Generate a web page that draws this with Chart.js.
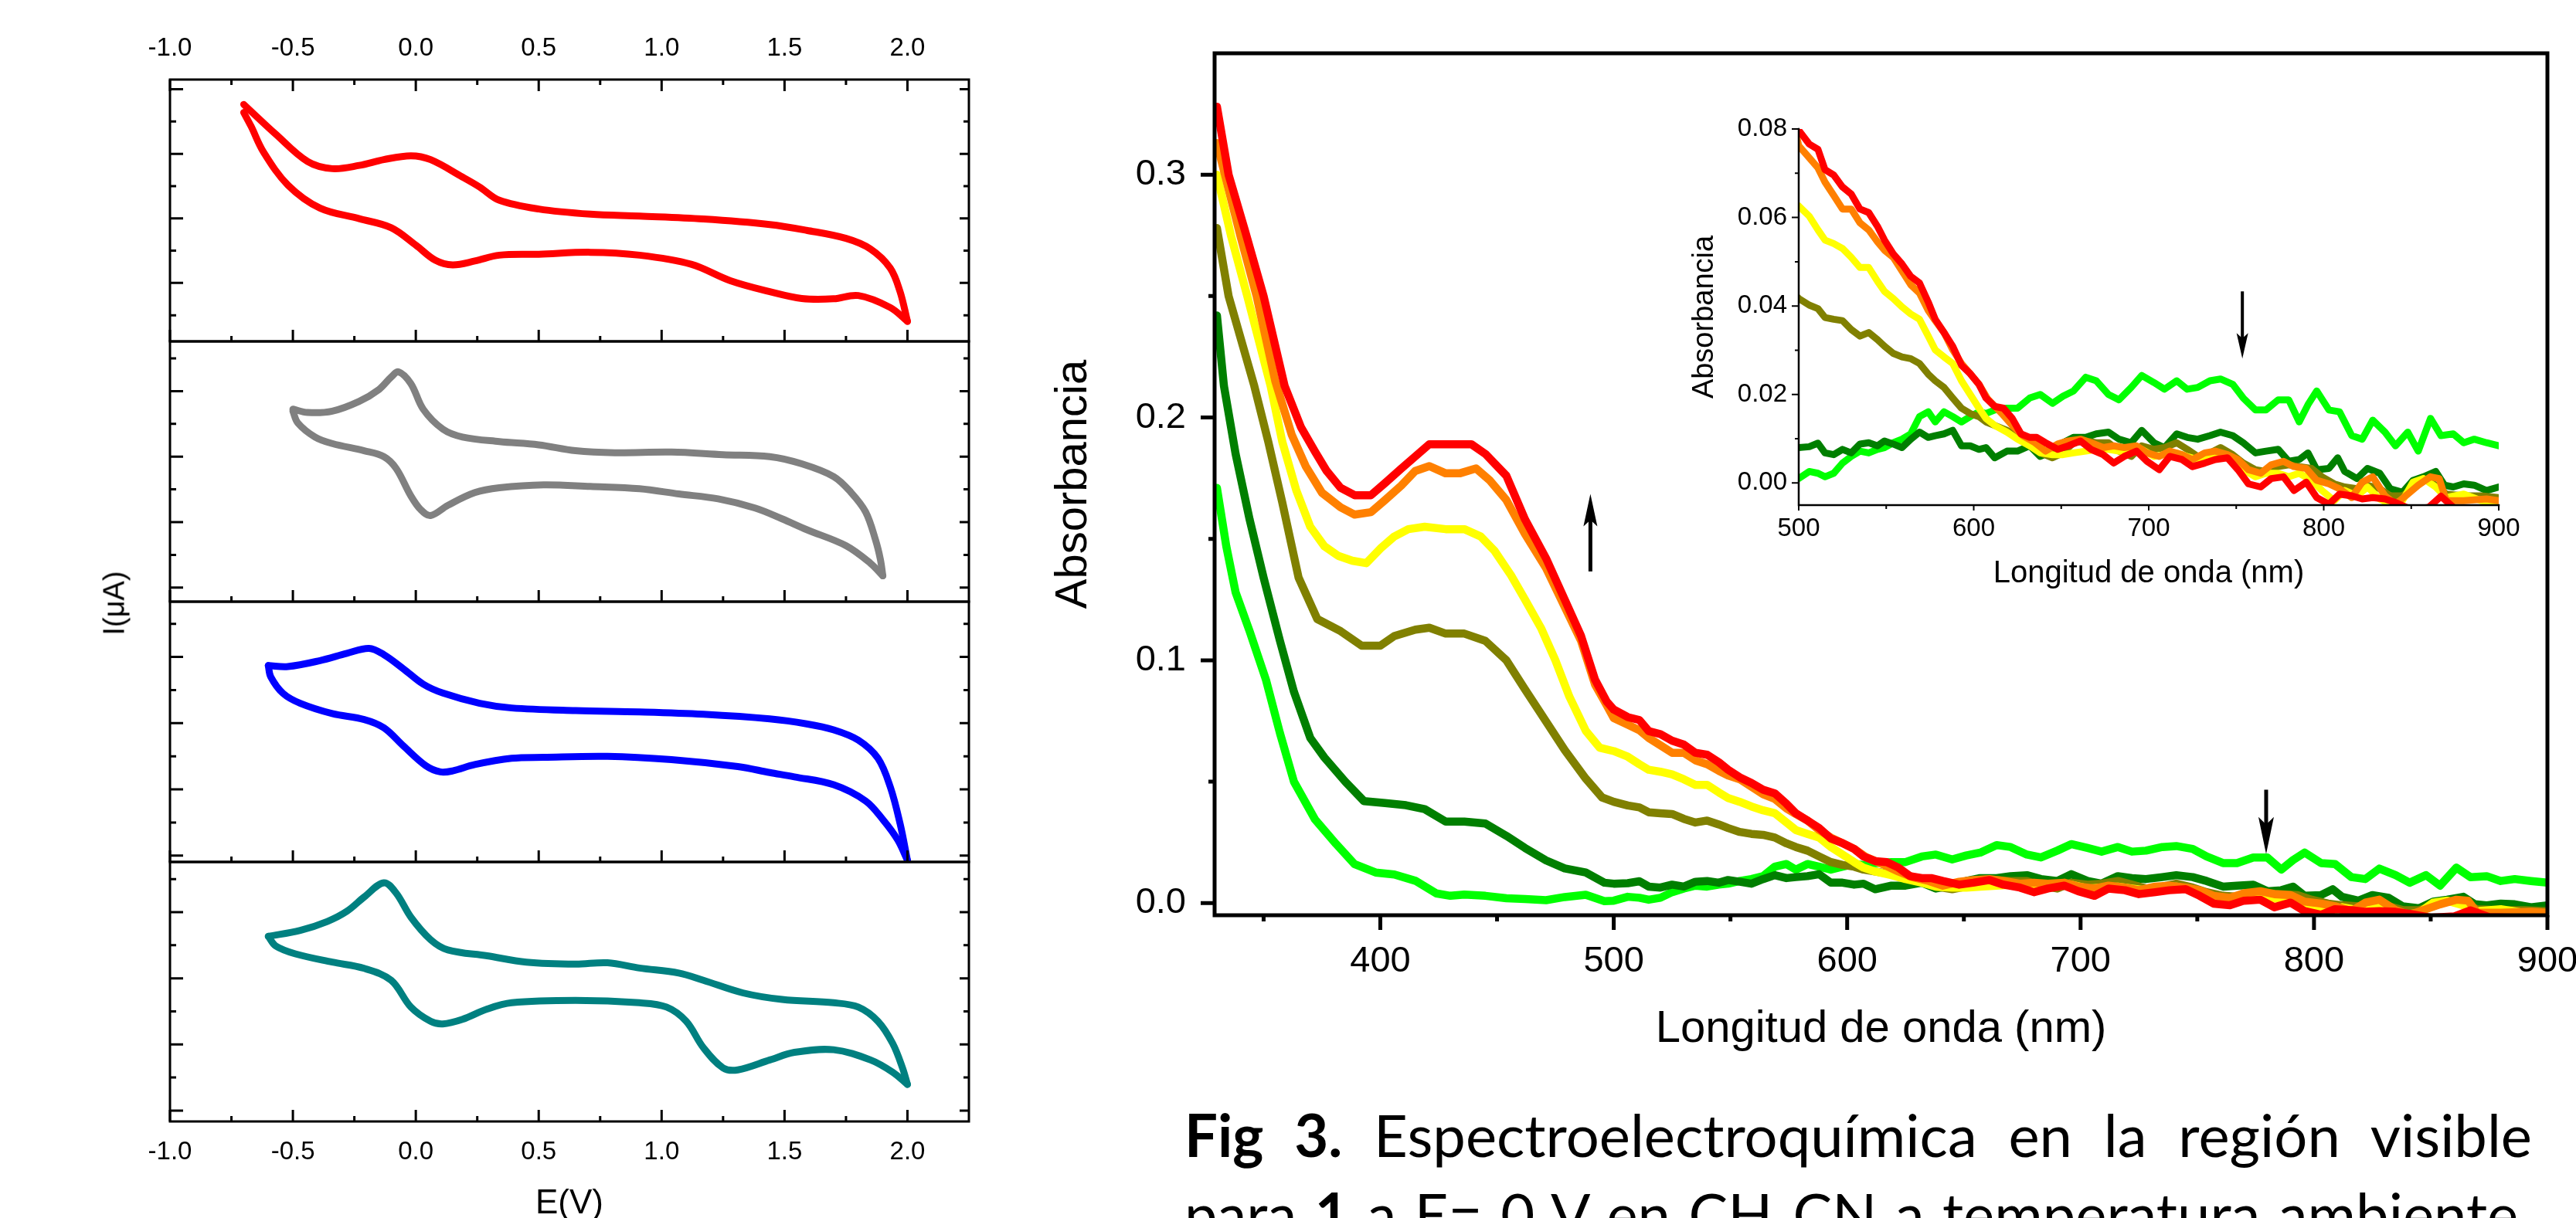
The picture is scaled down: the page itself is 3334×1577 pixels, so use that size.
<!DOCTYPE html>
<html>
<head>
<meta charset="utf-8">
<script src="https://cdn.jsdelivr.net/npm/chart.js@4.4.1/dist/chart.umd.min.js"></script>
<style>
  html, body { margin: 0; padding: 0; background: #fff; overflow: hidden; width: 3334px; height: 1577px; }
  body { position: relative; }
  canvas { position: absolute; }
  .cap { position: absolute; left: 1533px; width: 1744px; font-family: Lato, 'Noto Sans', sans-serif; font-size: 76px; line-height: 102px; text-align: justify; text-align-last: justify; color: #000; }
  .cap sub { font-size: 45px; line-height: 0; }
  #ilab { position: absolute; left: 148px; top: 781px; transform: translate(-50%, -50%) rotate(-90deg); font: 38px 'Liberation Sans', Arial, sans-serif; white-space: nowrap; }
</style>
</head>
<body>
<canvas id="cv1" width="1300" height="452" style="left:0;top:0"></canvas>
<canvas id="cv2" width="1300" height="357" style="left:0;top:432px"></canvas>
<canvas id="cv3" width="1300" height="357" style="left:0;top:769px"></canvas>
<canvas id="cv4" width="1300" height="520" style="left:0;top:1106px"></canvas>
<div id="ilab">I(μA)</div>
<canvas id="main" width="2100" height="1420" style="left:1300px;top:0"></canvas>
<canvas id="inset" width="1150" height="660" style="left:2150px;top:120px"></canvas>
<div class="cap" style="top:1418px"><b>Fig 3.</b> Espectroelectroquímica en la región visible</div>
<div class="cap" style="top:1520px">para <b>1</b> a E= 0 V en CH<sub>3</sub>CN a temperatura ambiente.</div>

<script>
// ---- cyclic voltammograms: [E (V), I (arbitrary, one unit per tick)] ----
const cvRedFwd = [[-0.70,6.53],[-0.57,5.61],[-0.44,4.76],[-0.34,4.54],[-0.23,4.64],[-0.13,4.82],[-0.02,4.94],[0.06,4.82],[0.19,4.28],[0.26,3.97],[0.34,3.56],[0.50,3.29],[0.71,3.13],[0.91,3.07],[1.17,2.98],[1.44,2.81],[1.59,2.63],[1.75,2.38],[1.85,2.05],[1.93,1.46],[1.97,0.73],[2.0,-0.19]];
const cvRedRev = [[2.0,-0.19],[1.93,0.24],[1.80,0.61],[1.70,0.51],[1.57,0.52],[1.44,0.73],[1.28,1.07],[1.12,1.58],[0.91,1.86],[0.71,1.95],[0.50,1.89],[0.34,1.86],[0.24,1.68],[0.15,1.56],[0.08,1.70],[0.00,2.17],[-0.10,2.71],[-0.23,2.99],[-0.39,3.32],[-0.52,4.03],[-0.62,5.06],[-0.67,5.85],[-0.70,6.28]];
const cvGrayFwd = [[-0.50,5.45],[-0.44,5.35],[-0.34,5.39],[-0.23,5.69],[-0.15,6.05],[-0.10,6.43],[-0.07,6.59],[-0.02,6.23],[0.03,5.45],[0.11,4.84],[0.19,4.60],[0.34,4.46],[0.50,4.36],[0.65,4.18],[0.81,4.12],[1.04,4.14],[1.25,4.06],[1.44,4.00],[1.57,3.78],[1.70,3.39],[1.77,2.91],[1.83,2.31],[1.87,1.46],[1.89,0.86],[1.90,0.36]];
const cvGrayRev = [[1.90,0.36],[1.85,0.74],[1.75,1.28],[1.59,1.77],[1.49,2.10],[1.38,2.43],[1.23,2.71],[1.07,2.86],[0.91,3.02],[0.71,3.09],[0.52,3.14],[0.34,3.05],[0.24,2.90],[0.13,2.51],[0.06,2.20],[0.02,2.38],[-0.02,2.80],[-0.08,3.64],[-0.13,4.00],[-0.21,4.18],[-0.34,4.40],[-0.41,4.60],[-0.48,5.03],[-0.50,5.39]];
const cvBlueFwd = [[-0.60,5.74],[-0.52,5.71],[-0.39,5.89],[-0.28,6.11],[-0.19,6.26],[-0.13,6.07],[-0.05,5.64],[0.03,5.18],[0.11,4.91],[0.26,4.60],[0.39,4.46],[0.65,4.38],[0.91,4.34],[1.17,4.27],[1.44,4.13],[1.59,3.98],[1.70,3.80],[1.80,3.49],[1.88,2.94],[1.93,2.08],[1.97,0.97],[2.0,-0.14]];
const cvBlueRev = [[2.0,-0.14],[1.96,0.48],[1.90,1.09],[1.83,1.65],[1.70,2.14],[1.54,2.38],[1.44,2.51],[1.31,2.69],[1.04,2.90],[0.78,3.00],[0.52,2.97],[0.39,2.94],[0.24,2.75],[0.15,2.56],[0.10,2.53],[0.04,2.72],[-0.05,3.31],[-0.13,3.86],[-0.21,4.11],[-0.34,4.29],[-0.47,4.60],[-0.54,4.90],[-0.59,5.40],[-0.60,5.74]];
const cvTealFwd = [[-0.60,5.27],[-0.47,5.45],[-0.36,5.72],[-0.28,6.03],[-0.21,6.46],[-0.13,6.89],[-0.08,6.58],[-0.02,5.85],[0.06,5.17],[0.13,4.86],[0.29,4.68],[0.45,4.49],[0.65,4.43],[0.78,4.47],[0.91,4.31],[1.07,4.16],[1.17,3.94],[1.33,3.56],[1.49,3.36],[1.70,3.26],[1.80,3.13],[1.88,2.70],[1.94,2.03],[1.98,1.29],[2.0,0.79]];
const cvTealRev = [[2.0,0.79],[1.94,1.16],[1.85,1.53],[1.70,1.84],[1.54,1.76],[1.44,1.53],[1.31,1.23],[1.25,1.29],[1.17,1.90],[1.10,2.70],[1.02,3.13],[0.91,3.26],[0.65,3.33],[0.39,3.26],[0.29,3.07],[0.19,2.76],[0.11,2.62],[0.06,2.70],[-0.02,3.13],[-0.10,3.94],[-0.21,4.30],[-0.34,4.49],[-0.49,4.74],[-0.57,4.98],[-0.60,5.27]];

const cvXTicks = [-1.0, -0.5, 0.0, 0.5, 1.0, 1.5, 2.0];
const cvXMinor = [-0.75, -0.25, 0.25, 0.75, 1.25, 1.75];
const cvYOdd = [1, 3, 5, 7];
const cvYEven = [0, 2, 4, 6];

// ---- spectra: [wavelength (nm), absorbance] ----
const specRed = [[330,0.328],[335,0.30],[342,0.277],[350,0.25],[359,0.213],[366,0.196],[372,0.186],[377,0.178],[383,0.171],[389,0.168],[396,0.168],[402,0.173],[409,0.179],[415,0.184],[421,0.189],[430,0.189],[439,0.189],[445,0.185],[454,0.176],[462,0.158],[471,0.142],[479,0.125],[486,0.11],[492,0.092],[497,0.083],
  [500,0.0797],[506,0.0766],[511,0.0754],[515,0.0708],[520,0.0696],[525,0.0669],[530,0.0653],[535,0.0619],[540,0.0611],[545,0.058],[549,0.0549],[554,0.0518],[559,0.0495],[564,0.0467],[569,0.0452],[574,0.0409],[578,0.037],[583,0.034],[588,0.0309],[593,0.0266],[598,0.0247],[603,0.0223],[607,0.0192],[612,0.0173],[617,0.0169],[622,0.0146],[627,0.0111],[632,0.0103],[636,0.0103],[641,0.0091],[648,0.0076],[654,0.0084],[661,0.0095],[667,0.0076],[674,0.0064],[680,0.0045],[686,0.006],[693,0.0072],[699,0.0049],[706,0.003],[712,0.006],[719,0.0053],[725,0.0037],[732,0.0045],[738,0.0053],[745,0.0057],[751,0.003],[757,-0.0002],[764,-0.0009],[770,0.001],[777,0.0014],[783,-0.0017],[790,0.0002],[796,-0.0033],[803,-0.0048],[809,-0.0025],[816,-0.0029],[822,-0.0036],[828,-0.0033],[835,-0.0036],[841,-0.0044],[850,-0.006],[860,-0.0055],[867,-0.003],[875,-0.0058],[885,-0.006],[900,-0.006]];
const specOrange = [[330,0.313],[340,0.275],[347,0.25],[355,0.215],[362,0.193],[368,0.18],[375,0.169],[383,0.163],[389,0.16],[396,0.161],[402,0.166],[409,0.172],[415,0.178],[421,0.18],[428,0.177],[434,0.177],[441,0.179],[447,0.174],[454,0.166],[462,0.152],[471,0.138],[477,0.126],[486,0.108],[492,0.09],[497,0.0815],
  [500,0.0762],[506,0.0735],[511,0.0712],[515,0.068],[520,0.065],[525,0.0619],[530,0.0619],[535,0.0588],[540,0.0572],[545,0.0545],[549,0.0526],[554,0.051],[559,0.0479],[564,0.0448],[569,0.0429],[574,0.039],[578,0.0367],[583,0.034],[588,0.0301],[593,0.027],[598,0.0247],[603,0.0223],[608,0.019],[616,0.0157],[622,0.013],[628,0.0107],[635,0.0091],[641,0.0072],[648,0.0088],[654,0.0095],[661,0.0099],[667,0.0091],[674,0.008],[680,0.0084],[686,0.008],[693,0.0084],[699,0.0068],[706,0.006],[712,0.0072],[719,0.0064],[725,0.0053],[732,0.0068],[738,0.0072],[745,0.0064],[751,0.0053],[757,0.003],[764,0.0022],[770,0.0041],[777,0.0049],[783,0.0037],[790,0.0033],[796,0.0006],[803,-0.0002],[809,-0.0013],[816,-0.0033],[822,0.0002],[828,0.0014],[835,-0.0029],[841,-0.0048],[848,-0.0025],[854,-0.0005],[861,0.0014],[866,0.001],[870,-0.004],[880,-0.004],[893,-0.0036],[900,-0.004]];
const specYellow = [[330,0.30],[336,0.275],[343,0.25],[353,0.213],[358,0.19],[364,0.17],[370,0.155],[376,0.147],[382,0.143],[388,0.141],[394,0.14],[400,0.146],[406,0.151],[412,0.154],[419,0.155],[428,0.154],[436,0.154],[443,0.151],[449,0.145],[456,0.135],[462,0.125],[469,0.113],[475,0.1],[481,0.085],[488,0.071],[494,0.064],
  [500,0.0626],[506,0.0603],[511,0.0572],[515,0.0549],[520,0.0541],[525,0.053],[530,0.051],[535,0.0487],[540,0.0487],[545,0.0456],[549,0.0433],[554,0.0417],[559,0.0398],[564,0.0382],[569,0.037],[574,0.0332],[578,0.0301],[583,0.0285],[588,0.027],[593,0.0231],[598,0.02],[603,0.0169],[607,0.0146],[612,0.013],[619,0.0115],[625,0.0099],[632,0.0084],[638,0.0068],[645,0.0064],[651,0.0064],[657,0.0068],[664,0.0072],[670,0.0076],[677,0.0076],[683,0.0072],[690,0.0068],[696,0.0076],[703,0.006],[709,0.0064],[716,0.0068],[722,0.006],[728,0.0053],[735,0.006],[741,0.0068],[748,0.0053],[754,0.003],[761,0.0014],[767,0.0022],[774,0.0022],[780,0.0014],[786,0.0022],[793,0.0006],[799,-0.0017],[806,-0.004],[812,-0.0017],[819,-0.0029],[825,-0.0009],[832,-0.0036],[838,-0.0048],[845,-0.004],[851,0.0002],[857,0.001],[864,-0.0009],[870,-0.0033],[880,-0.0025],[890,-0.004],[900,-0.0044]];
const specOlive = [[330,0.278],[335,0.25],[346,0.213],[352,0.19],[358,0.165],[365,0.134],[373,0.117],[383,0.112],[392,0.106],[400,0.106],[406,0.11],[415,0.1126],[421,0.1134],[428,0.111],[436,0.111],[445,0.108],[454,0.1],[462,0.088],[471,0.0748],[479,0.063],[488,0.0513],[495,0.0435],
  [500,0.0417],[506,0.0402],[511,0.0394],[515,0.0374],[520,0.037],[525,0.0367],[530,0.0347],[535,0.0332],[540,0.034],[545,0.0324],[549,0.0309],[554,0.0293],[559,0.0285],[564,0.0281],[569,0.027],[574,0.0246],[578,0.0231],[583,0.0216],[588,0.0192],[593,0.0169],[598,0.0157],[603,0.015],[607,0.0138],[612,0.013],[619,0.0119],[625,0.0107],[632,0.0091],[638,0.0068],[645,0.0057],[651,0.0068],[657,0.0091],[664,0.0095],[670,0.0091],[677,0.0091],[683,0.0072],[690,0.006],[696,0.0084],[703,0.0076],[709,0.008],[716,0.0091],[722,0.0076],[728,0.006],[735,0.0068],[741,0.008],[748,0.0064],[754,0.0045],[761,0.003],[767,0.0026],[774,0.0037],[780,0.0041],[786,0.0037],[793,0.0033],[799,0.0014],[806,-0.0002],[812,-0.0009],[819,-0.0013],[825,-0.0005],[832,-0.0013],[838,-0.0029],[845,-0.0029],[851,-0.0013],[857,0.001],[864,-0.0005],[870,-0.0025],[880,-0.0029],[890,-0.0029],[900,-0.0033]];
const specDarkGreen = [[330,0.242],[333,0.213],[338,0.185],[344,0.158],[350,0.134],[357,0.108],[363,0.087],[370,0.068],[376,0.06],[385,0.05],[393,0.042],[402,0.0412],[411,0.0403],[419,0.0387],[428,0.0336],[436,0.0336],[445,0.0328],[454,0.0277],[462,0.0227],[471,0.0176],[479,0.0143],[488,0.0126],[496,0.0084],
  [500,0.008],[506,0.0082],[511,0.009],[515,0.0068],[520,0.0064],[525,0.0076],[530,0.0068],[535,0.0088],[540,0.0091],[545,0.0084],[549,0.0095],[554,0.0088],[559,0.008],[564,0.0099],[569,0.0115],[574,0.0103],[578,0.0107],[583,0.0111],[588,0.0119],[593,0.0084],[598,0.0084],[603,0.0076],[607,0.008],[612,0.0057],[619,0.0072],[625,0.0072],[632,0.0084],[638,0.006],[645,0.0072],[651,0.0091],[657,0.0103],[664,0.0103],[670,0.0111],[677,0.0115],[683,0.0099],[690,0.0091],[696,0.0119],[703,0.0091],[709,0.008],[716,0.0111],[722,0.0103],[728,0.0099],[735,0.0107],[741,0.0115],[748,0.0107],[754,0.0091],[761,0.0068],[767,0.0072],[774,0.0076],[780,0.0049],[786,0.0053],[791,0.0068],[796,0.003],[803,0.0033],[808,0.0057],[812,0.0026],[819,0.001],[825,0.0033],[832,0.0022],[838,-0.0013],[845,-0.0021],[851,0.0006],[857,0.0014],[864,0.0026],[869,-0.0005],[874,-0.0009],[880,-0.0002],[886,-0.0005],[893,-0.0017],[900,-0.0009]];
const specLime = [[330,0.171],[334,0.147],[338,0.128],[344,0.112],[351,0.092],[357,0.07],[363,0.05],[372,0.0345],[381,0.0244],[389,0.016],[398,0.0126],[406,0.0118],[415,0.0092],[424,0.004],[430,0.003],[436,0.0035],[445,0.003],[454,0.002],[462,0.0017],[471,0.0012],[479,0.0025],[488,0.0034],[496,0.0008],
  [500,0.001],[506,0.0026],[511,0.0022],[515,0.0014],[520,0.0022],[525,0.0045],[530,0.006],[535,0.0072],[540,0.0068],[545,0.0076],[549,0.008],[554,0.0091],[559,0.0099],[564,0.0111],[569,0.015],[574,0.0161],[578,0.0138],[583,0.0161],[588,0.015],[593,0.0138],[598,0.015],[603,0.0161],[607,0.0157],[612,0.0165],[619,0.0169],[625,0.0169],[632,0.0192],[638,0.02],[645,0.018],[651,0.0196],[657,0.0208],[664,0.0239],[670,0.0231],[677,0.02],[683,0.0188],[690,0.0216],[696,0.0243],[703,0.0227],[709,0.0212],[716,0.0231],[722,0.0212],[728,0.0216],[735,0.0231],[741,0.0235],[748,0.0223],[754,0.0192],[761,0.0165],[767,0.0165],[774,0.0188],[780,0.0188],[786,0.0138],[791,0.0177],[796,0.0208],[803,0.0165],[809,0.0161],[816,0.0107],[822,0.0099],[828,0.0142],[835,0.0115],[841,0.0084],[848,0.0115],[854,0.0072],[861,0.0146],[867,0.0107],[874,0.0111],[880,0.0091],[886,0.0099],[893,0.0091],[900,0.0084]];

const specColors = ['#ff0000', '#ff8000', '#ffff00', '#808000', '#007f00', '#00ff00'];
const specSeries = [specRed, specOrange, specYellow, specOlive, specDarkGreen, specLime];

const mainXTicks = [400, 500, 600, 700, 800, 900];
const mainXMinor = [350, 450, 550, 650, 750, 850];
const mainYTicks = [0.0, 0.1, 0.2, 0.3];
const mainYMinor = [0.05, 0.15, 0.25];
const insetXTicks = [500, 600, 700, 800, 900];
const insetXMinor = [550, 650, 750, 850];
const insetYTicks = [0.00, 0.02, 0.04, 0.06, 0.08];
const insetYMinor = [0.01, 0.03, 0.05, 0.07];

// arrows: wavelength, start and end absorbance
const mainArrows = [{x: 490, from: 0.1366, to: 0.1685, shaft: 5, head: 42, hw: 18}, {x: 779.5, from: 0.0467, to: 0.0202, shaft: 5, head: 48, hw: 20}];
const insetArrows = [{x: 753.5, from: 0.0433, to: 0.0281, shaft: 4, head: 33, hw: 15}];

Chart.defaults.font.family = "'Liberation Sans', Arial, Helvetica, sans-serif";
Chart.defaults.color = '#000';

// frame, inward/outward tick marks and arrows
const deco = {
  id: 'deco',
  afterDatasetsDraw(chart, args, o) {
    const ctx = chart.ctx, a = chart.chartArea;
    const sx = chart.scales.x, sy = chart.scales.y;
    ctx.save();
    ctx.strokeStyle = '#000';
    ctx.fillStyle = '#000';
    (o.marks || []).forEach(m => {
      const sc = m.axis === 'x' ? sx : sy;
      ctx.lineWidth = m.width;
      ctx.beginPath();
      m.values.forEach(v => {
        const p = sc.getPixelForValue(v);
        if (m.side === 'bottom') { ctx.moveTo(p, a.bottom); ctx.lineTo(p, a.bottom + m.len); }
        if (m.side === 'top') { ctx.moveTo(p, a.top); ctx.lineTo(p, a.top - m.len); }
        if (m.side === 'left') { ctx.moveTo(a.left, p); ctx.lineTo(a.left - m.len, p); }
        if (m.side === 'right') { ctx.moveTo(a.right, p); ctx.lineTo(a.right + m.len, p); }
      });
      ctx.stroke();
    });
    if (o.frame) {
      ctx.lineWidth = o.frame.width;
      if (o.frame.sides === 'all') {
        ctx.strokeRect(a.left, a.top, a.right - a.left, a.bottom - a.top);
      } else {
        ctx.lineCap = 'square';
        ctx.beginPath();
        ctx.moveTo(a.left, a.top); ctx.lineTo(a.left, a.bottom); ctx.lineTo(a.right, a.bottom);
        ctx.stroke();
      }
    }
    (o.arrows || []).forEach(ar => {
      const x = sx.getPixelForValue(ar.x);
      const y0 = sy.getPixelForValue(ar.from), y1 = sy.getPixelForValue(ar.to);
      const d = Math.sign(y1 - y0);
      ctx.lineCap = 'butt';
      ctx.lineWidth = ar.shaft;
      ctx.beginPath(); ctx.moveTo(x, y0); ctx.lineTo(x, y1 - d * ar.head * 0.6); ctx.stroke();
      ctx.beginPath();
      ctx.moveTo(x, y1);
      ctx.lineTo(x - ar.hw / 2, y1 - d * ar.head);
      ctx.lineTo(x, y1 - d * ar.head * 0.8);
      ctx.lineTo(x + ar.hw / 2, y1 - d * ar.head);
      ctx.closePath();
      ctx.fill();
    });
    ctx.restore();
  }
};
Chart.register(deco);

const fixedTicks = vals => scale => { scale.ticks = vals.map(v => ({value: v})); };
const noGrid = {display: false, drawTicks: false};

function cvPanel(id, fwd, rev, color, yMin, yMax, yMajor, yMinor, xPos, pad) {
  const marks = [
    {axis: 'y', side: 'left', values: yMajor, len: -17, width: 3},
    {axis: 'y', side: 'left', values: yMinor, len: -8, width: 3},
    {axis: 'y', side: 'right', values: yMajor, len: -12, width: 3},
    {axis: 'y', side: 'right', values: yMinor, len: -7, width: 3},
    {axis: 'x', side: 'bottom', values: cvXTicks, len: -15, width: 3},
    {axis: 'x', side: 'bottom', values: cvXMinor, len: -7, width: 3}
  ];
  if (xPos === 'top') {
    marks.push({axis: 'x', side: 'top', values: cvXTicks, len: -15, width: 3});
    marks.push({axis: 'x', side: 'top', values: cvXMinor, len: -7, width: 3});
  }
  const x = {type: 'linear', min: -1.0, max: 2.25, grid: noGrid, border: {display: false},
    afterBuildTicks: fixedTicks(cvXTicks)};
  if (xPos) {
    x.position = xPos;
    x.ticks = {padding: 20, font: {size: 33}, autoSkip: false, maxRotation: 0, callback: v => v.toFixed(1)};
    x.afterFit = s => { s.height = xPos === 'top' ? 103 : 174; };
    if (xPos === 'bottom') {
      x.title = {display: true, text: 'E(V)', font: {size: 44}, padding: {top: 0, bottom: 41}};
    }
  } else {
    x.display = false;
  }
  return new Chart(document.getElementById(id).getContext('2d'), {
    type: 'scatter',
    data: {
      datasets: [fwd, rev].map(d => ({
        data: d, showLine: true, borderColor: color, borderWidth: 9, pointRadius: 0,
        tension: 0.35, borderCapStyle: 'round', borderJoinStyle: 'round'
      }))
    },
    options: {
      responsive: false, animation: false, events: [],
      layout: {padding: pad},
      plugins: {legend: {display: false}, tooltip: {enabled: false},
        deco: {frame: {width: 3, sides: 'all'}, marks: marks}},
      scales: {x: x, y: {type: 'linear', display: false, min: yMin, max: yMax}}
    }
  });
}

cvPanel('cv1', cvRedFwd, cvRedRev, '#ff0000', -0.81, 7.30, cvYOdd, cvYEven, 'top', {left: 220, right: 46, top: 0, bottom: 10});
cvPanel('cv2', cvGrayFwd, cvGrayRev, '#808080', -0.43, 7.52, cvYEven, cvYOdd, null, {left: 220, right: 46, top: 10, bottom: 10});
cvPanel('cv3', cvBlueFwd, cvBlueRev, '#0000ff', -0.19, 7.67, cvYEven, cvYOdd, null, {left: 220, right: 46, top: 10, bottom: 10});
cvPanel('cv4', cvTealFwd, cvTealRev, '#008080', -0.33, 7.52, cvYEven, cvYOdd, 'bottom', {left: 220, right: 46, top: 10, bottom: 0});

function specDatasets(width) {
  return specSeries.map((d, i) => ({
    data: d, showLine: true, borderColor: specColors[i], borderWidth: width, pointRadius: 0,
    tension: 0, borderJoinStyle: 'round', borderCapStyle: 'round'
  }));
}

new Chart(document.getElementById('main').getContext('2d'), {
  type: 'scatter',
  data: {datasets: specDatasets(10.5)},
  options: {
    responsive: false, animation: false, events: [],
    layout: {padding: {top: 69, right: 103, left: 0, bottom: 0}},
    plugins: {
      legend: {display: false}, tooltip: {enabled: false},
      deco: {
        frame: {width: 5, sides: 'all'},
        marks: [
          {axis: 'x', side: 'bottom', values: mainXTicks, len: 19, width: 5},
          {axis: 'x', side: 'bottom', values: mainXMinor, len: 8, width: 5},
          {axis: 'y', side: 'left', values: mainYTicks, len: 18, width: 5},
          {axis: 'y', side: 'left', values: mainYMinor, len: 8, width: 5}
        ],
        arrows: mainArrows
      }
    },
    scales: {
      x: {
        type: 'linear', min: 329, max: 900, grid: noGrid, border: {display: false},
        afterBuildTicks: fixedTicks(mainXTicks), afterFit: s => { s.height = 235; },
        ticks: {padding: 32, font: {size: 47}, autoSkip: false, maxRotation: 0, callback: v => String(v)},
        title: {display: true, text: 'Longitud de onda (nm)', font: {size: 58}, padding: {top: 0, bottom: 52}}
      },
      y: {
        type: 'linear', min: -0.005, max: 0.35, grid: noGrid, border: {display: false},
        afterBuildTicks: fixedTicks(mainYTicks), afterFit: s => { s.width = 272; },
        ticks: {padding: 37, font: {size: 47}, callback: v => v.toFixed(1)},
        title: {display: true, text: 'Absorbancia', font: {size: 58}, padding: {top: 55, bottom: 0}}
      }
    }
  }
});

new Chart(document.getElementById('inset').getContext('2d'), {
  type: 'scatter',
  data: {datasets: specDatasets(9)},
  options: {
    responsive: false, animation: false, events: [],
    layout: {padding: {top: 47, right: 66, left: 0, bottom: 0}},
    plugins: {
      legend: {display: false}, tooltip: {enabled: false},
      deco: {
        frame: {width: 2.5, sides: 'lb'},
        marks: [
          {axis: 'x', side: 'bottom', values: insetXTicks, len: 7, width: 2},
          {axis: 'x', side: 'bottom', values: insetXMinor, len: 5, width: 2},
          {axis: 'y', side: 'left', values: insetYTicks, len: 9, width: 2},
          {axis: 'y', side: 'left', values: insetYMinor, len: 5, width: 2}
        ],
        arrows: insetArrows
      }
    },
    scales: {
      x: {
        type: 'linear', min: 500, max: 900, grid: noGrid, border: {display: false},
        afterBuildTicks: fixedTicks(insetXTicks), afterFit: s => { s.height = 126; },
        ticks: {padding: 11, font: {size: 33}, autoSkip: false, maxRotation: 0, callback: v => String(v)},
        title: {display: true, text: 'Longitud de onda (nm)', font: {size: 40}, padding: {top: 0, bottom: 13}}
      },
      y: {
        type: 'linear', min: -0.005, max: 0.08, grid: noGrid, border: {display: false},
        afterBuildTicks: fixedTicks(insetYTicks), afterFit: s => { s.width = 178; },
        ticks: {padding: 15, font: {size: 33}, callback: v => v.toFixed(2)},
        title: {display: true, text: 'Absorbancia', font: {size: 38}, padding: {top: 34, bottom: 0}}
      }
    }
  }
});
</script>
</body>
</html>
